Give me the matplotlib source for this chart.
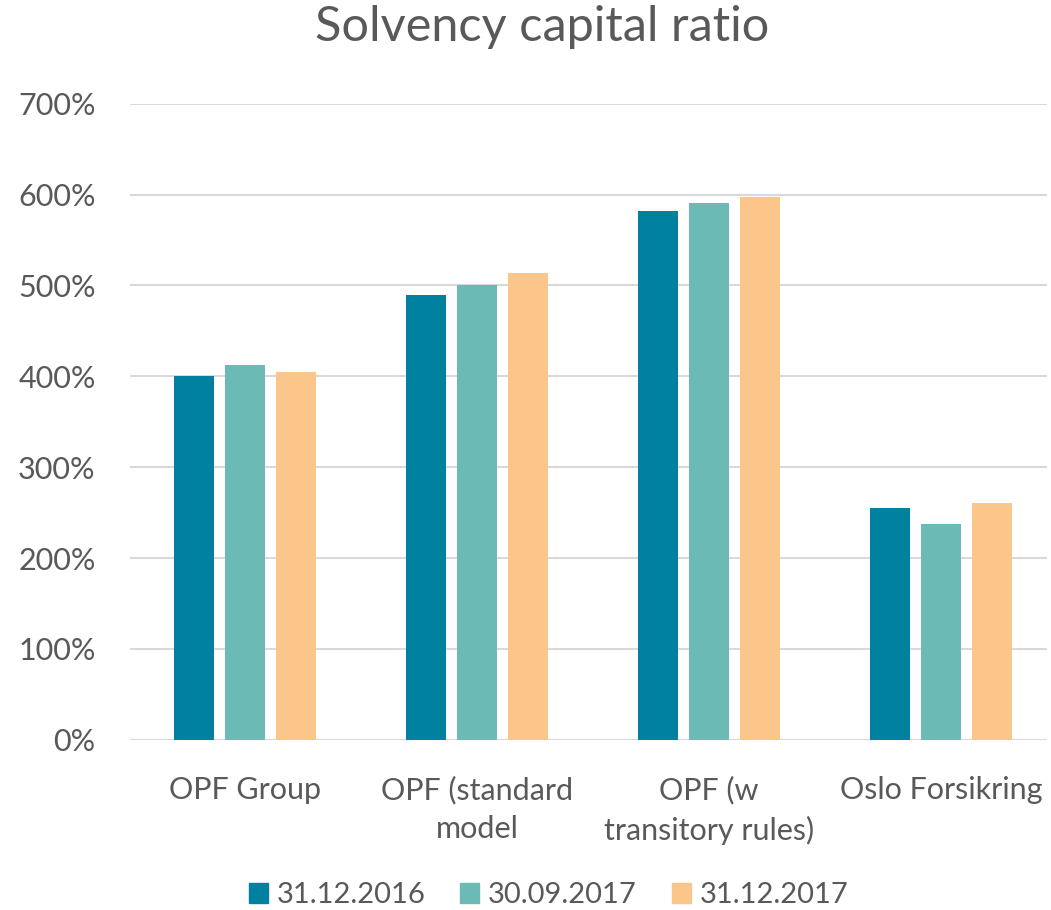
import matplotlib.pyplot as plt
import numpy as np
from matplotlib.patches import Patch

plt.rcParams['font.family'] = ['Lato', 'DejaVu Sans']

categories = ['OPF Group', 'OPF (standard\nmodel', 'OPF (w\ntransitory rules)', 'Oslo Forsikring']
series = ['31.12.2016', '30.09.2017', '31.12.2017']
val_2016 = [400, 490, 582, 255]
val_sep2017 = [412, 501, 591, 237]
val_2017 = [405, 514, 597, 261]
colors = ['#00819F', '#6CBAB6', '#FCC589']
text_color = '#595959'

fig = plt.figure(figsize=(10.51, 9.10), dpi=100)
ax = fig.add_axes([0.124, 0.187, 0.872, 0.699])

x = np.arange(len(categories))
width = 0.172
step = 0.22
for i, vals in enumerate([val_2016, val_sep2017, val_2017]):
    ax.bar(x + (i - 1) * step, vals, width, color=colors[i], label=series[i], zorder=3)

ax.set_xlim(-0.496, 3.457)
ax.set_ylim(0, 700)
ax.set_yticks(range(0, 701, 100))
ax.set_yticklabels([f'{v}%' for v in range(0, 701, 100)])
ax.yaxis.grid(True, color='#D9D9D9', linewidth=1.5, zorder=0)
ax.set_xticks(x)
ax.set_xticklabels(categories, linespacing=1.45)
for s in ax.spines.values():
    s.set_visible(False)
ax.tick_params(axis='both', length=0, colors=text_color, labelsize=22)
ax.tick_params(axis='x', pad=26)
ax.tick_params(axis='y', pad=25)

fig.suptitle('Solvency capital ratio', x=0.516, y=0.995, fontsize=35,
             fontweight='normal', color=text_color)

handles = [Patch(color=c) for c in colors]
fig.legend(handles, series, loc='lower center', bbox_to_anchor=(0.522, -0.027), ncol=3,
           frameon=False, fontsize=21, labelcolor=text_color, handlelength=0.65,
           handleheight=0.65, handletextpad=0.3, columnspacing=1.2)

fig.savefig('out.png', dpi=100)
